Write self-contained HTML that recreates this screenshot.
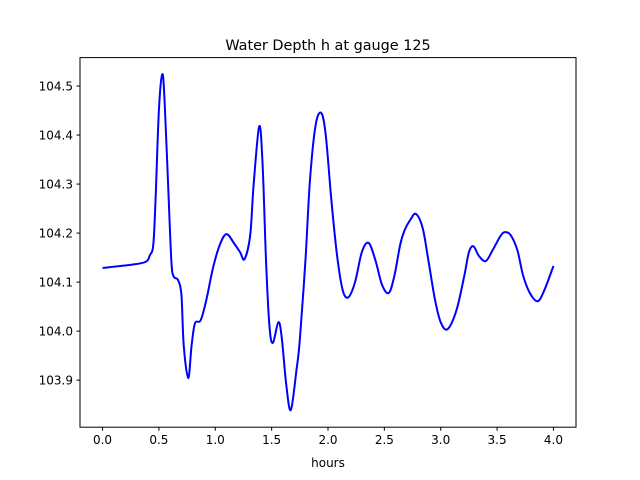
<!DOCTYPE html>
<html><head><meta charset="utf-8"><style>
body{margin:0;background:#fff}
svg{display:block;font-family:"DejaVu Sans","Liberation Sans",sans-serif}
</style></head><body>
<svg id="chart" width="640" height="480" viewBox="0 0 640 480">
<rect width="640" height="480" fill="#fff"/>
<text x="328" y="50" font-size="14.4" text-anchor="middle" fill="#000">Water Depth h at gauge 125</text>
<text x="328" y="467" font-size="12" text-anchor="middle" fill="#000">hours</text>
<g id="ticks"></g>
<path id="line" fill="none" stroke="#0000ff" stroke-width="2" stroke-linejoin="round"/>
<rect x="80" y="57.6" width="496" height="369.6" fill="none" stroke="#000" stroke-width="1"/>
</svg>
<script>
const hours=[0.00,0.24,0.38,0.42,0.45,0.47,0.50,0.53,0.55,0.58,0.61,0.63,0.67,0.70,0.72,0.76,0.79,0.82,0.87,0.92,0.98,1.04,1.10,1.17,1.22,1.26,1.31,1.34,1.39,1.42,1.45,1.48,1.51,1.56,1.59,1.63,1.67,1.72,1.75,1.80,1.84,1.89,1.94,1.98,2.03,2.08,2.13,2.18,2.24,2.30,2.36,2.42,2.48,2.54,2.59,2.64,2.68,2.73,2.78,2.84,2.89,2.95,3.00,3.06,3.14,3.21,3.25,3.29,3.34,3.40,3.46,3.53,3.57,3.62,3.68,3.73,3.79,3.86,3.92,4.00];
const depth=[104.129,104.135,104.141,104.155,104.176,104.267,104.451,104.524,104.471,104.308,104.145,104.112,104.104,104.073,103.971,103.904,103.971,104.016,104.022,104.063,104.129,104.176,104.198,104.178,104.161,104.147,104.196,104.298,104.418,104.339,104.145,104.012,103.976,104.018,103.986,103.890,103.839,103.920,103.982,104.145,104.308,104.420,104.445,104.400,104.267,104.155,104.084,104.069,104.100,104.161,104.180,104.145,104.094,104.078,104.114,104.176,104.206,104.227,104.239,104.210,104.145,104.063,104.018,104.004,104.043,104.114,104.161,104.173,104.153,104.143,104.165,104.194,104.202,104.196,104.165,104.114,104.078,104.061,104.084,104.133];
const xTicks=["0.0","0.5","1.0","1.5","2.0","2.5","3.0","3.5","4.0"];
const yTicks=["103.9","104.0","104.1","104.2","104.3","104.4","104.5"];
const X0=80,X1=576,Y0=427.2,Y1=57.6,xmin=-0.2,xmax=4.2,ymin=103.804,ymax=104.558;
const sx=v=>X0+(v-xmin)/(xmax-xmin)*(X1-X0);
const sy=v=>Y0-(v-ymin)/(ymax-ymin)*(Y0-Y1);
const NS="http://www.w3.org/2000/svg";
const g=document.getElementById('ticks');
function mk(t,a){const e=document.createElementNS(NS,t);for(const k in a)e.setAttribute(k,a[k]);return e;}
xTicks.forEach(t=>{const x=sx(parseFloat(t));
 const l=mk('line',{x1:x,x2:x,y1:Y0,y2:Y0+3.5,stroke:'#000'});
 
 
 g.appendChild(l);
 const s=mk('text',{x:x,y:Y0+17,'font-size':12,'text-anchor':'middle'});s.textContent=t;
 
 
 g.appendChild(s);});
yTicks.forEach(t=>{const y=sy(parseFloat(t));
 const l=mk('line',{x1:X0-3.5,x2:X0,y1:y,y2:y,stroke:'#000'});
 
 
 g.appendChild(l);
 const s=mk('text',{x:X0-7,y:y+4.5,'font-size':12,'text-anchor':'end'});s.textContent=t;
 
 
 g.appendChild(s);});
const P=hours.map((h,i)=>[sx(h),sy(depth[i])]);
let d='M'+P[0][0]+','+P[0][1];
for(let i=0;i<P.length-1;i++){const p0=P[Math.max(0,i-1)],p1=P[i],p2=P[i+1],p3=P[Math.min(P.length-1,i+2)];
 const c1=[p1[0]+(p2[0]-p0[0])/6,p1[1]+(p2[1]-p0[1])/6],c2=[p2[0]-(p3[0]-p1[0])/6,p2[1]-(p3[1]-p1[1])/6];
 d+=` C${c1[0]},${c1[1]} ${c2[0]},${c2[1]} ${p2[0]},${p2[1]}`;}
document.getElementById('line').setAttribute('d',d);
</script>
</body></html>
